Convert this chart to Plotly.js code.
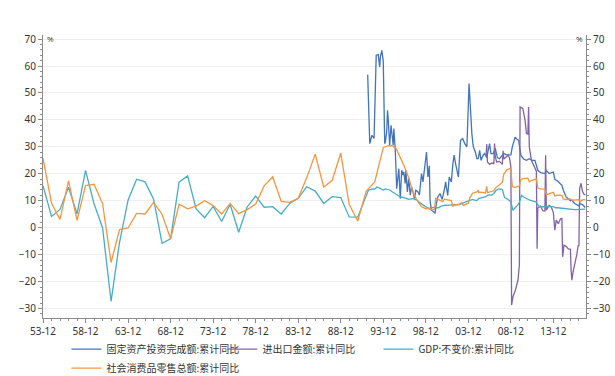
<!DOCTYPE html>
<html><head><meta charset="utf-8">
<script src="https://cdn.plot.ly/plotly-3.0.1.min.js"></script>
<style>html,body{margin:0;padding:0;background:#fff}#chart{width:615px;height:376px}</style>
</head><body><div id="chart"></div>
<script>
// ---- series names ----
const names = ['固定资产投资完成额:累计同比','进出口金额:累计同比','GDP:不变价:累计同比','社会消费品零售总额:累计同比'];

// ---- GDP:不变价:累计同比 (annual 1953-1990, quarterly 1992-2017) ----
const gdpAnnualYears = [1953,1954,1955,1956,1957,1958,1959,1960,1961,1962,1963,1964,1965,1966,1967,1968,1969,1970,1971,1972,1973,1974,1975,1976,1977,1978,1979,1980,1981,1982,1983,1984,1985,1986,1987,1988,1989,1990];
const gdpAnnualValues = [15.6,4.2,6.8,15.0,5.1,21.3,8.9,0.0,-27.3,-5.4,10.2,18.0,17.0,10.6,-5.8,-4.1,16.9,19.2,7.0,3.7,7.9,2.3,8.7,-1.7,7.7,11.7,7.6,7.8,5.1,9.0,10.9,15.2,13.6,9.0,11.5,11.2,4.0,3.9];
const gdpQuarterYears = [1992,1993,1994,1995,1996,1997,1998,1999,2000,2001,2002,2003,2004,2005,2006,2007,2008,2009,2010,2011,2012,2013,2014,2015,2016,2017];
const gdpQuarterValues = [
  [13.9,14.2,14.4,14.3],[15.1,14.8,14.5,14.0],[14.4,14.2,14.0,13.4],[12.9,12.4,11.9,11.4],
  [11.3,11.0,10.7,10.5],[10.7,10.8,10.5,10.2],[9.4,9.0,8.3,7.8],[7.3,7.3,7.5,7.6],
  [7.4,7.4,7.9,8.3],[8.4,8.3,8.4,8.5],[8.6,8.6,8.5,8.6],[9.0,9.3,9.8,10.0],
  [10.4,10.5,10.2,10.1],[10.9,11.1,11.2,11.4],[12.0,12.2,12.1,12.7],[13.8,14.3,14.4,14.2],
  [11.3,10.9,10.3,9.6],[6.4,7.4,8.2,9.4],[12.0,11.4,10.9,10.6],[10.2,10.0,9.7,9.5],
  [8.1,7.8,7.7,7.9],[7.8,7.7,7.8,7.8],[7.4,7.4,7.3,7.3],[7.0,7.0,6.9,6.9],
  [6.7,6.7,6.7,6.7],[6.9,6.9,6.9]
];

// ---- 社会消费品零售总额:累计同比 ----
const retailAnnualYears = [1953,1954,1955,1956,1957,1958,1959,1960,1961,1962,1963,1964,1965,1966,1967,1968,1969,1970,1971,1972,1973,1974,1975,1976,1977,1978,1979,1980,1981,1982,1983,1984,1985,1986,1987,1988,1989,1990,1991,1992];
const retailAnnualValues = [25.8,9.1,3.1,17.4,2.7,15.6,16.1,9.0,-12.9,-0.7,-0.1,5.3,5.1,9.4,4.9,-4.1,8.7,7.0,8.0,10.0,8.2,5.1,9.0,5.2,6.7,8.8,15.5,18.9,9.8,9.4,10.9,18.5,27.3,15.1,17.6,27.7,8.6,2.5,13.6,17.0];
const retailMonthDates = ['1993-12','1994-06','1994-12','1995-06','1995-12','1996-06','1996-12','1997-06','1997-12','1998-06','1998-12',
  '1999-02','1999-06','1999-12','2000-02','2000-06','2000-12','2001-02','2001-06','2001-12','2002-02','2002-06','2002-12',
  '2003-02','2003-05','2003-12','2004-02','2004-06','2004-12','2005-02','2005-03','2005-06','2005-12','2006-02','2006-03','2006-06','2006-12',
  '2007-02','2007-06','2007-12','2008-02','2008-06','2008-10','2008-12','2009-02','2009-06','2009-12','2010-02','2010-06','2010-12',
  '2011-02','2011-06','2011-12','2012-02','2012-06','2012-12','2013-02','2013-06','2013-12','2014-02','2014-06','2014-12',
  '2015-02','2015-06','2015-12','2016-02','2016-06','2016-12','2017-02','2017-03','2017-06','2017-09'];
const retailMonthValues = [29.7,30.4,30.5,29.4,26.0,22.6,18.5,13.0,10.0,7.8,7.0,
  7.2,6.9,6.8,10.9,10.3,9.7,10.6,10.3,10.1,8.0,8.5,8.8,
  9.3,8.3,9.1,11.0,12.8,13.3,13.9,13.0,13.2,12.9,15.3,13.0,13.3,13.7,
  14.7,15.4,16.8,19.9,21.4,22.0,21.6,15.2,15.0,15.5,17.9,18.2,18.4,
  17.0,17.6,18.1,14.7,14.4,14.3,12.3,12.7,13.1,11.8,12.1,12.0,
  10.7,10.4,10.7,10.2,10.3,10.4,9.5,10.0,10.4,10.4];

// ---- 固定资产投资完成额:累计同比 ----
const faiDates = ['1992-02','1992-03','1992-05','1992-08','1992-11','1993-02','1993-05','1993-07','1993-08','1993-10','1993-12',
  '1994-02','1994-03','1994-05','1994-06','1994-07','1994-09','1994-11','1995-02','1995-03','1995-05','1995-07','1995-10','1995-12',
  '1996-02','1996-04','1996-05','1996-07','1996-08','1996-10','1996-12','1997-02','1997-04','1997-06','1997-08','1997-10',
  '1998-01','1998-03','1998-06','1998-08','1998-10','1999-01','1999-03','1999-05','1999-06','1999-08','1999-11',
  '2000-01','2000-03','2000-05','2000-08','2000-11','2001-02','2001-04','2001-05','2001-07','2001-09','2001-12',
  '2002-02','2002-04','2002-06','2002-10','2003-01','2003-04','2003-07','2003-10','2004-01','2004-03','2004-05','2004-07','2004-10','2004-12',
  '2005-02','2005-04','2005-06','2005-09','2005-11','2006-02','2006-06','2006-08','2006-11','2007-02','2007-05','2007-08','2007-11',
  '2008-02','2008-06','2008-12','2009-02','2009-06','2009-09','2009-11','2010-02','2010-06','2010-10','2011-02','2011-06','2011-10',
  '2012-02','2012-06','2012-12','2013-02','2013-06','2013-12','2014-02','2014-06','2014-12','2015-02','2015-06','2015-12',
  '2016-02','2016-06','2016-12','2017-02','2017-05','2017-08','2017-09'];
const faiValues = [56.8,44.0,31.2,34.3,33.1,64.0,64.2,59.6,63.5,65.8,61.8,
  31.2,31.8,36.0,43.6,40.5,30.6,38.0,30.6,36.8,28.7,14.5,21.9,10.8,
  21.3,19.5,20.7,16.4,21.3,13.3,18.2,12.1,15.1,13.3,10.8,13.9,
  13.3,12.1,20.1,17.0,22.5,28.1,18.8,23.0,10.2,6.5,5.9,
  5.3,9.0,11.4,12.7,10.5,13.9,17.0,15.1,12.0,18.8,17.0,
  23.2,26.9,23.8,18.8,32.4,33.1,31.2,30.0,53.5,42.3,34.9,30.0,28.0,25.6,
  25.6,28.7,25.0,27.0,27.5,26.0,31.2,27.5,27.5,29.4,26.0,25.6,26.5,
  27.5,27.0,27.0,30.0,33.6,32.7,32.4,26.9,25.5,25.0,25.6,25.0,25.0,
  21.3,20.4,20.1,21.2,20.1,20.6,17.9,17.3,15.7,13.9,11.4,10.0,
  10.2,9.0,8.1,8.9,8.6,7.8,7.5];

// ---- 进出口金额:累计同比 ----
const tradeDates = ['2006-01','2006-02','2006-03','2006-06','2006-09','2006-12','2007-01','2007-02','2007-04','2007-08','2007-12',
  '2008-01','2008-02','2008-05','2008-08','2008-10','2008-11','2008-12','2009-01','2009-03','2009-06','2009-10','2009-12',
  '2010-01','2010-05','2010-08','2010-10','2010-12','2011-01','2011-02','2011-05','2011-09','2011-12',
  '2012-01','2012-02','2012-06','2012-09','2012-12','2013-01','2013-02','2013-06','2013-09','2013-12',
  '2014-02','2014-04','2014-07','2014-10','2014-12','2015-01','2015-03','2015-06','2015-09','2015-12',
  '2016-01','2016-02','2016-04','2016-07','2016-09','2016-11','2016-12','2017-01','2017-03','2017-05','2017-07','2017-09'];
const tradeValues = [26.5,31.0,24.4,23.5,24.0,23.8,31.2,26.3,24.4,24.6,23.5,
  28.5,25.5,26.3,26.9,26.0,24.4,22.6,-28.7,-25.6,-23.5,-19.5,-13.9,
  44.8,44.2,39.9,34.9,34.7,44.8,30.0,25.0,22.5,21.0,
  -7.8,7.3,8.0,6.3,6.2,26.9,6.5,8.3,7.7,5.5,
  -0.9,2.8,1.5,3.3,3.4,-10.8,-6.5,-6.9,-7.9,-8.0,
  -15.8,-19.5,-16.0,-12.7,-10.0,-6.5,-6.8,14.5,16.5,13.5,12.5,12.1];

// ---- build x/y from the arrays ----
const gdpX = gdpAnnualYears.map(y => y + '-12');
const gdpY = gdpAnnualValues.slice();
const qMonths = ['03','06','09','12'];
gdpQuarterYears.forEach((yr, i) => {
  gdpQuarterValues[i].forEach((v, j) => { gdpX.push(yr + '-' + qMonths[j]); gdpY.push(v); });
});
const retailX = retailAnnualYears.map(y => y + '-12').concat(retailMonthDates);
const retailY = retailAnnualValues.concat(retailMonthValues);

const colors = {fai:'#4274BD', trade:'#8462A8', gdp:'#45ADC9', retail:'#F7953F'};
const lw = 1.3;

const traces = [
  {x: faiDates, y: faiValues, name: names[0], type:'scatter', mode:'lines', line:{color:colors.fai, width:lw}},
  {x: tradeDates, y: tradeValues, name: names[1], type:'scatter', mode:'lines', line:{color:colors.trade, width:lw}},
  {x: gdpX, y: gdpY, name: names[2], type:'scatter', mode:'lines', line:{color:colors.gdp, width:lw}},
  {x: retailX, y: retailY, name: names[3], type:'scatter', mode:'lines', line:{color:colors.retail, width:lw}},
  // empty trace so that the right-hand (secondary) axis is drawn
  {x: [], y: [], yaxis:'y2', type:'scatter', mode:'lines', showlegend:false, hoverinfo:'skip'}
];

const tickFont = {family:'"Noto Sans", "DejaVu Sans", sans-serif', size:10, color:'#333'};
const yCommon = {
  range:[-33.5,71.5], autorange:false, dtick:10, tick0:0, ticks:'outside', ticklen:4, tickcolor:'#8a8a8a',
  showline:true, linecolor:'#8a8a8a', linewidth:1, zeroline:false, tickfont:tickFont,
  minor:{dtick:2, ticks:'outside', ticklen:2, tickcolor:'#8a8a8a', showgrid:false}
};

const layout = {
  width:615, height:376,
  margin:{l:43, r:29, t:35, b:58, autoexpand:false},
  paper_bgcolor:'#fff', plot_bgcolor:'#fff',
  showlegend:true,
  xaxis:{
    type:'date', range:['1953-12-01','2017-10-01'], tickformat:'%y-%m', dtick:'M60', tick0:'1953-12-01',
    ticks:'outside', ticklen:4, tickcolor:'#8a8a8a', showline:true, linecolor:'#8a8a8a', showgrid:false, zeroline:false,
    tickfont:tickFont,
    minor:{dtick:'M12', tick0:'1953-12-01', ticks:'outside', ticklen:2, tickcolor:'#8a8a8a', showgrid:false}
  },
  yaxis: Object.assign({}, yCommon, {side:'left', showgrid:true, gridcolor:'#efefef', gridwidth:1}),
  yaxis2: Object.assign({}, yCommon, {side:'right', overlaying:'y', anchor:'x', showgrid:false}),
  legend:{
    orientation:'h', xref:'container', x:0.108, xanchor:'left', yref:'container', y:0.11, yanchor:'top',
    font:{family:'"Noto Sans CJK SC", "Noto Sans", sans-serif', size:10, color:'#333'},
    entrywidth:111, entrywidthmode:'pixels', traceorder:'normal', bgcolor:'rgba(0,0,0,0)'
  },
  annotations:[
    {text:'%', xref:'paper', yref:'paper', x:0, y:1, xanchor:'left', yanchor:'middle', xshift:2, yshift:-3, showarrow:false, font:{size:8, color:'#333'}},
    {text:'%', xref:'paper', yref:'paper', x:1, y:1, xanchor:'right', yanchor:'middle', xshift:-1, yshift:-3, showarrow:false, font:{size:8, color:'#333'}}
  ]
};

Plotly.newPlot('chart', traces, layout, {displayModeBar:false, staticPlot:true});
</script>
</body></html>
